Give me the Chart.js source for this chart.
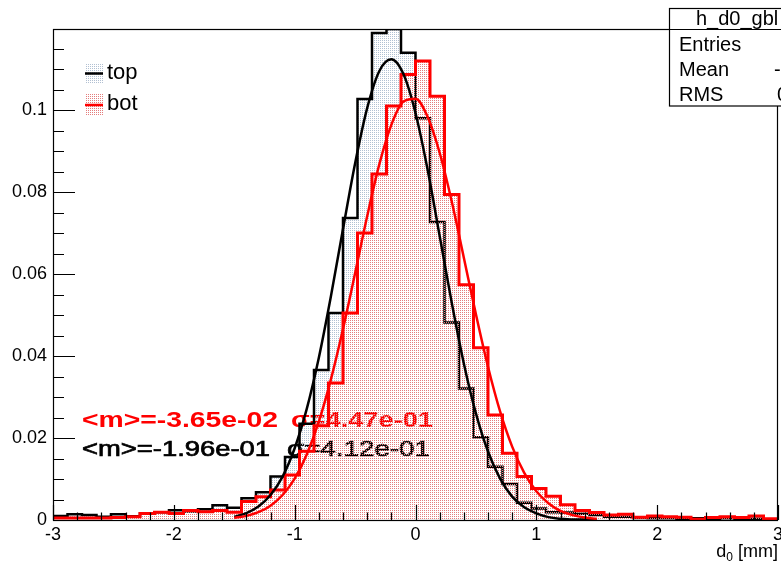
<!DOCTYPE html>
<html>
<head>
<meta charset="utf-8">
<script src="https://cdn.jsdelivr.net/npm/chart.js@4.4.0/dist/chart.umd.min.js"></script>
<style>
  html, body { margin: 0; padding: 0; background: #fff; }
  canvas { display: block; }
</style>
</head>
<body>
<canvas id="c" width="781" height="567"></canvas>
<script>
// bin edges of the histograms (50 bins, -3 .. 3)
const binEdges = [-3, -2.88, -2.76, -2.64, -2.52, -2.4, -2.28, -2.16, -2.04, -1.92,
    -1.8, -1.68, -1.56, -1.44, -1.32, -1.2, -1.08, -0.96, -0.84, -0.72,
    -0.6, -0.48, -0.36, -0.24, -0.12, 0, 0.12, 0.24, 0.36, 0.48,
    0.6, 0.72, 0.84, 0.96, 1.08, 1.2, 1.32, 1.44, 1.56, 1.68,
    1.8, 1.92, 2.04, 2.16, 2.28, 2.4, 2.52, 2.64, 2.76, 2.88, 3];

const topCounts = [0.0010, 0.0014, 0.0012, 0.0008, 0.0014, 0.0009, 0.0016, 0.0019, 0.0024, 0.0021,
    0.0026, 0.0036, 0.0030, 0.0053, 0.0068, 0.0106, 0.0154, 0.0235, 0.0366, 0.0505,
    0.0737, 0.1027, 0.1188, 0.1198, 0.1140, 0.0980, 0.0727, 0.0482, 0.0321, 0.0202,
    0.0130, 0.0088, 0.0042, 0.0028, 0.0019, 0.0018, 0.0015, 0.0012, 0.0008, 0.0008,
    0.0005, 0.0004, 0.0004, 0.0003, 0.0004, 0.0003, 0.0004, 0.0003, 0.0003, 0.0002];

const botCounts = [0.0005, 0.0005, 0.0005, 0.0005, 0.0006, 0.0008, 0.0016, 0.0019, 0.0016, 0.0023,
    0.0020, 0.0023, 0.0019, 0.0045, 0.0057, 0.0073, 0.0110, 0.0168, 0.0230, 0.0334,
    0.0505, 0.0700, 0.0844, 0.1010, 0.1087, 0.1120, 0.1034, 0.0794, 0.0574, 0.0420,
    0.0256, 0.0163, 0.0106, 0.0077, 0.0058, 0.0037, 0.0023, 0.0018, 0.0012, 0.0014,
    0.0007, 0.0010, 0.0008, 0.0007, 0.0002, 0.0006, 0.0008, 0.0006, 0.0010, 0.0003];

// gaussian fit curves
const fitX = [-1.5, -1.4, -1.3, -1.2, -1.1, -1.0, -0.9, -0.8, -0.7, -0.6, -0.5, -0.4, -0.3, -0.2, -0.1,
    0, 0.1, 0.2, 0.3, 0.4, 0.5, 0.6, 0.7, 0.8, 0.9, 1.0, 1.1, 1.2, 1.3, 1.4, 1.5];
const topFit = [0.0008, 0.0017, 0.0033, 0.0061, 0.0106, 0.0175, 0.0271, 0.0396, 0.0546, 0.0710,
    0.0870, 0.1005, 0.1095, 0.1124, 0.1088, 0.0993, 0.0855, 0.0693, 0.0530, 0.0382,
    0.0260, 0.0167, 0.0101, 0.0057, 0.0031, 0.0016, 0.0007, 0.0003, 0.0001, 0.0001, 0.0000];
const botFit = [0.0005, 0.0010, 0.0019, 0.0035, 0.0061, 0.0101, 0.0160, 0.0240, 0.0343, 0.0466,
    0.0602, 0.0741, 0.0867, 0.0964, 0.1021, 0.1028, 0.0984, 0.0896, 0.0777, 0.0640,
    0.0502, 0.0374, 0.0265, 0.0179, 0.0115, 0.0070, 0.0041, 0.0022, 0.0012, 0.0006, 0.0003];

const xTicks = [-3, -2, -1, 0, 1, 2, 3];
const yTicks = [0, 0.02, 0.04, 0.06, 0.08, 0.1];

const FONT = 'Liberation Sans, Arial, Helvetica, sans-serif';

function dots(color) {
    const c = document.createElement('canvas');
    c.width = 2; c.height = 2;
    const g = c.getContext('2d');
    g.fillStyle = color;
    g.fillRect(0, 0, 1, 1);
    return g.createPattern(c, 'repeat');
}
const topFill = dots('rgb(178,192,210)');
const botFill = dots('rgb(228,125,125)');

function steps(vals) {
    return binEdges.map((e, i) => ({ x: e, y: vals[Math.min(i, vals.length - 1)] }));
}

function fitText(ctx, str, x, y, w, heavy) {
    const m = ctx.measureText(str).width;
    ctx.save();
    ctx.translate(x, y);
    ctx.scale(w / m, 1);
    ctx.fillText(str, 0, 0);
    if (heavy) {
        ctx.lineWidth = 0.7;
        ctx.strokeStyle = ctx.fillStyle;
        ctx.strokeText(str, 0, 0);
    }
    ctx.restore();
}

// fit results, drawn under the histograms like ROOT does
const fitLabels = {
    id: 'fitLabels',
    beforeDatasetsDraw(chart) {
        const ctx = chart.ctx;
        ctx.save();
        ctx.textBaseline = 'alphabetic';
        ctx.fillStyle = '#ff0000';
        ctx.font = 'bold 22px ' + FONT;
        fitText(ctx, '<m>=-3.65e-02', 82, 427, 196, false);
        fitText(ctx, '\u03c3=4.47e-01', 291, 427, 142, false);
        ctx.fillStyle = '#000';
        ctx.font = '22px ' + FONT;
        fitText(ctx, '<m>=-1.96e-01', 82, 456, 188, true);
        fitText(ctx, '\u03c3=4.12e-01', 287, 456, 143, true);
        ctx.restore();
    }
};

// frame, inward tick marks, legend
const frame = {
    id: 'frame',
    afterDatasetsDraw(chart) {
        const ctx = chart.ctx;
        const a = chart.chartArea;
        const xs = chart.scales.x, ys = chart.scales.y;
        ctx.save();
        ctx.strokeStyle = '#000';
        ctx.lineWidth = 1.2;
        ctx.strokeRect(a.left + 0.5, a.top + 0.5, a.right - a.left - 1, a.bottom - a.top);

        ctx.beginPath();
        for (let i = 0; i <= 23; i++) {
            const py = Math.round(ys.getPixelForValue(i * 0.005)) + 0.5;
            const len = i % 4 === 0 ? 22 : 11;
            ctx.moveTo(a.left, py);
            ctx.lineTo(a.left + len, py);
        }
        for (let i = 0; i <= 30; i++) {
            const px = Math.round(xs.getPixelForValue(-3 + i * 0.2)) + 0.5;
            const len = i % 5 === 0 ? 15 : 7.5;
            ctx.moveTo(px, a.bottom);
            ctx.lineTo(px, a.bottom - len);
        }
        ctx.stroke();

        // legend
        ctx.fillStyle = topFill;
        ctx.fillRect(85, 63, 18, 21);
        ctx.fillStyle = botFill;
        ctx.fillRect(85, 94, 18, 22);
        ctx.lineWidth = 2.5;
        ctx.strokeStyle = '#000';
        ctx.beginPath(); ctx.moveTo(85, 73.5); ctx.lineTo(103, 73.5); ctx.stroke();
        ctx.strokeStyle = '#ff0000';
        ctx.beginPath(); ctx.moveTo(85, 105); ctx.lineTo(103, 105); ctx.stroke();
        ctx.fillStyle = '#000';
        ctx.font = '22px ' + FONT;
        ctx.textBaseline = 'middle';
        ctx.fillText('top', 107, 73);
        ctx.fillText('bot', 107, 104);

        // axis title d0 [mm]
        ctx.textBaseline = 'alphabetic';
        ctx.font = '18px ' + FONT;
        const wd = ctx.measureText('d').width;
        const wr = ctx.measureText(' [mm]').width;
        ctx.font = '12px ' + FONT;
        const ws = ctx.measureText('0').width;
        let x0 = 778 - wr - ws - wd;
        ctx.font = '18px ' + FONT;
        ctx.fillText('d', x0, 557);
        ctx.fillText(' [mm]', x0 + wd + ws, 557);
        ctx.font = '12px ' + FONT;
        ctx.fillText('0', x0 + wd, 561);
        ctx.restore();
    },
    afterDraw(chart) {
        const ctx = chart.ctx;
        ctx.save();
        ctx.fillStyle = '#fff';
        ctx.fillRect(669, 8, 140, 98);
        ctx.strokeStyle = '#000';
        ctx.lineWidth = 1.2;
        ctx.strokeRect(669.5, 8.5, 140, 97.5);
        ctx.beginPath(); ctx.moveTo(669, 29.5); ctx.lineTo(781, 29.5); ctx.stroke();
        ctx.fillStyle = '#000';
        ctx.textBaseline = 'middle';
        ctx.font = '20px ' + FONT;
        ctx.fillText('h_d0_gbl', 696, 19);
        ctx.fillText('Entries', 679, 45);
        ctx.fillText('Mean', 679, 70);
        ctx.fillText('RMS', 679, 95);
        ctx.fillText('-0.1163', 774, 70);
        ctx.fillText('0.4386', 777, 95);
        ctx.restore();
    }
};

new Chart(document.getElementById('c').getContext('2d'), {
    type: 'line',
    data: {
        datasets: [
            {
                label: 'top',
                data: steps(topCounts),
                stepped: 'before',
                borderColor: '#000',
                borderWidth: 2.5,
                backgroundColor: topFill,
                fill: 'origin',
                pointRadius: 0,
                order: 4
            },
            {
                label: 'bot',
                data: steps(botCounts),
                stepped: 'before',
                borderColor: '#ff0000',
                borderWidth: 3,
                backgroundColor: botFill,
                fill: 'origin',
                pointRadius: 0,
                order: 3
            },
            {
                label: 'top fit',
                data: fitX.map((x, i) => ({ x: x, y: topFit[i] })),
                borderColor: '#000',
                borderWidth: 2.5,
                fill: false,
                cubicInterpolationMode: 'monotone',
                pointRadius: 0,
                order: 2
            },
            {
                label: 'bot fit',
                data: fitX.map((x, i) => ({ x: x, y: botFit[i] })),
                borderColor: '#ff0000',
                borderWidth: 2.5,
                fill: false,
                cubicInterpolationMode: 'monotone',
                pointRadius: 0,
                order: 1
            }
        ]
    },
    options: {
        responsive: false,
        animation: false,
        devicePixelRatio: 1,
        layout: { padding: { left: 0, right: 3, top: 29, bottom: 0 } },
        plugins: { legend: { display: false }, tooltip: { enabled: false } },
        scales: {
            x: {
                type: 'linear',
                min: -3,
                max: 3,
                afterBuildTicks: s => { s.ticks = xTicks.map(v => ({ value: v })); },
                afterFit: s => { s.height = 47; s.paddingLeft = 0; s.paddingRight = 0; },
                grid: { display: false, drawTicks: false },
                border: { display: false },
                ticks: {
                    font: { family: FONT, size: 18 },
                    color: '#000',
                    padding: 4,
                    maxRotation: 0,
                    autoSkip: false,
                    callback: v => String(v)
                }
            },
            y: {
                type: 'linear',
                min: 0,
                max: 0.1198,
                afterBuildTicks: s => { s.ticks = yTicks.map(v => ({ value: v })); },
                afterFit: s => { s.width = 53; s.paddingTop = 0; s.paddingBottom = 0; },
                grid: { display: false, drawTicks: false },
                border: { display: false },
                ticks: {
                    font: { family: FONT, size: 18 },
                    color: '#000',
                    padding: 6,
                    autoSkip: false,
                    callback: v => v === 0 ? '0' : String(+v.toFixed(2))
                }
            }
        }
    },
    plugins: [fitLabels, frame]
});
</script>
</body>
</html>
